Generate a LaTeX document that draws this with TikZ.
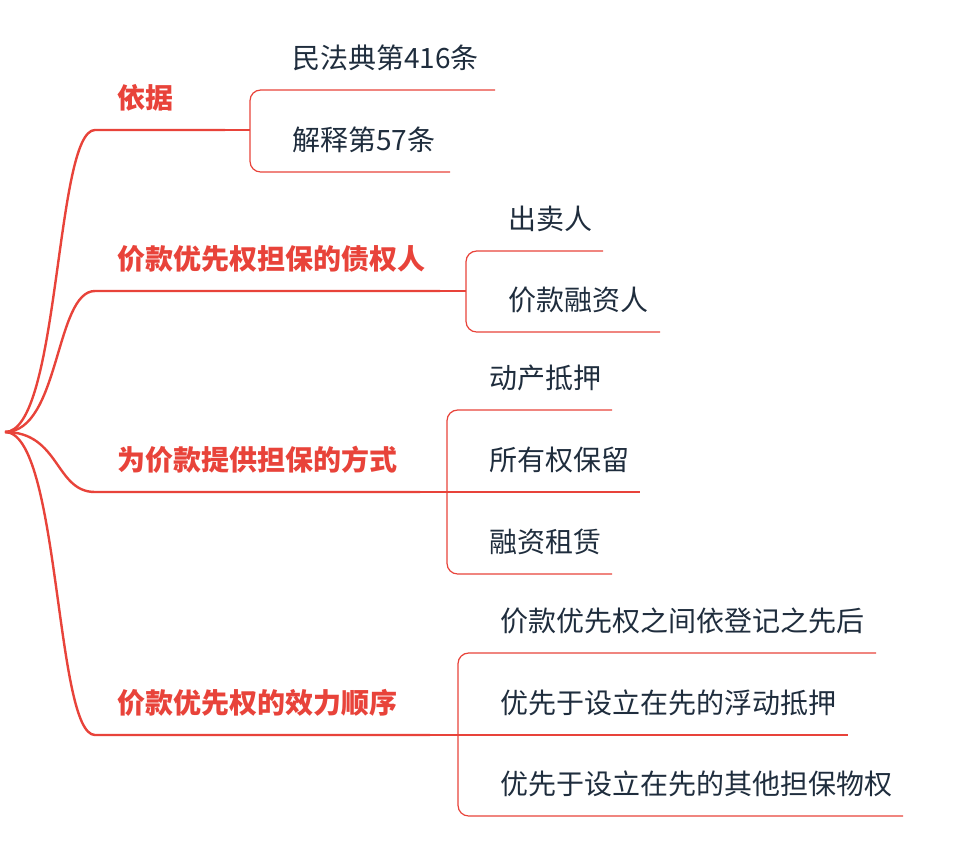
\documentclass[tikz,border=0pt]{standalone}
\usepackage{fontspec}
\setmainfont{Noto Sans CJK SC}
\usetikzlibrary{positioning}
\definecolor{branchred}{HTML}{E8433A}
\definecolor{leafink}{HTML}{1F2D3D}
\tikzset{topic/.style = {anchor=south west, inner sep=0pt, font=\fontsize{21}{21}\selectfont\bfseries, text=branchred},
         leaf/.style = {anchor=south west, inner sep=0pt, font=\fontsize{21}{21}\selectfont, text=leafink},
         trunk/.style = {branchred, line width=1.8pt},
         twig/.style = {branchred, line width=0.9pt, rounded corners=8pt}}
\begin{document}
\begin{tikzpicture}[x=0.75pt, y=-0.75pt]
  \useasboundingbox (0,0) rectangle (962,864);
  \coordinate (root) at (5,432);

  % main branches
  \foreach \name / \y / \e / \txt in
    {ba/130/225/依据,
     bb/291/440/价款优先权担保的债权人,
     bc/492/420/为价款提供担保的方式,
     bd/735/430/价款优先权的效力顺序}
  {
    \coordinate (\name-s) at (95,\y);
    \coordinate (\name-e) at (\e,\y);
    \node[topic] (\name) at (117,\y-18) {\txt};
    \draw[trunk] (root) .. controls (60,432) and (55,\y) .. (\name-s) -- (\name-e);
  }

  % leaves
  \foreach \name / \x / \y / \e / \txt in
    {a1/250/90/495/民法典第416条, a2/250/172/450/解释第57条,
     b1/466/251/603/出卖人, b2/466/332/660/价款融资人,
     c1/447/410/612/动产抵押, c2/447/492/640/所有权保留, c3/447/574/612/融资租赁,
     d1/458/653/876/价款优先权之间依登记之先后, d2/458/735/848/优先于设立在先的浮动抵押,
     d3/458/816/903/优先于设立在先的其他担保物权}
  {
    \coordinate (\name-s) at (\x,\y);
    \coordinate (\name-e) at (\e,\y);
    \node[leaf] (\name) at (\x+42,\y-19) {\txt};
  }

  \draw[twig] (a1-e) -- (a1-s) -- (a2-s) -- (a2-e);
  \draw[twig] (ba-e) -- (a1-s |- ba-e);
  \draw[twig] (b1-e) -- (b1-s) -- (b2-s) -- (b2-e);
  \draw[twig] (bb-e) -- (b1-s |- bb-e);
  \draw[twig] (c1-e) -- (c1-s) -- (c3-s) -- (c3-e);
  \draw[twig] (bc-e) -- (c2-e);
  \draw[twig] (d1-e) -- (d1-s) -- (d3-s) -- (d3-e);
  \draw[twig] (bd-e) -- (d2-e);
\end{tikzpicture}
\end{document}
